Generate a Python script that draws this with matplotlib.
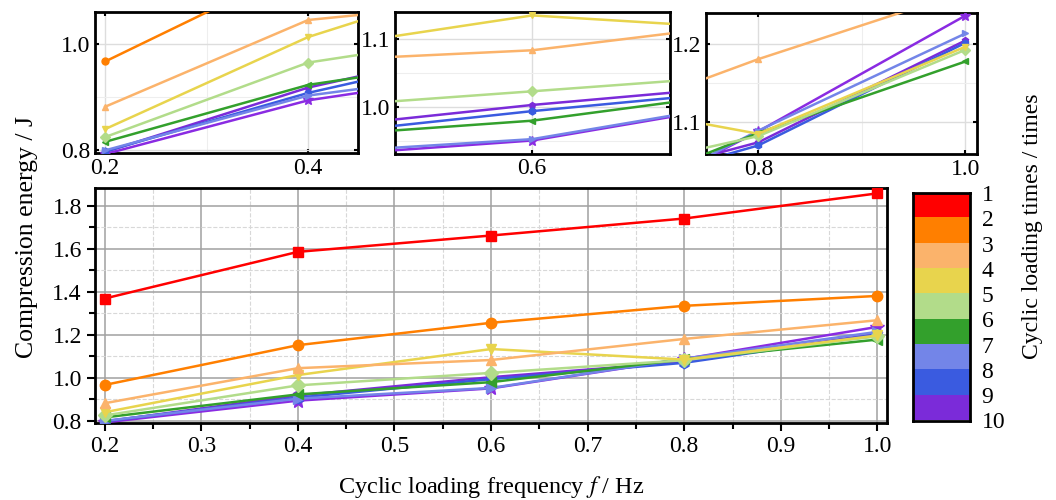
import numpy as np
import matplotlib
matplotlib.use("Agg")
import matplotlib.pyplot as plt
from matplotlib.ticker import MultipleLocator

plt.rcParams['font.family'] = ['Liberation Serif', 'DejaVu Serif']
plt.rcParams['mathtext.fontset'] = 'stix'

# datos
freq = [0.2, 0.4, 0.6, 0.8, 1.0]
s1 = [1.369, 1.586, 1.662, 1.741, 1.858]
s2 = [0.967, 1.152, 1.256, 1.335, 1.381]
s3 = [0.882, 1.045, 1.083, 1.181, 1.268]
s4 = [0.840, 1.013, 1.134, 1.085, 1.197]
s5 = [0.825, 0.965, 1.023, 1.082, 1.193]
s6 = [0.816, 0.923, 0.980, 1.086, 1.178]
s7 = [0.800, 0.903, 0.953, 1.089, 1.214]
s8 = [0.798, 0.908, 0.994, 1.070, 1.202]
s9 = [0.797, 0.918, 1.003, 1.074, 1.205]
s10 = [0.793, 0.894, 0.951, 1.088, 1.237]
series = [s1, s2, s3, s4, s5, s6, s7, s8, s9, s10]

colores = ['#FF0000', '#FF7F00', '#FBB36B', '#E8D44D', '#B2DC8A',
           '#33A02C', '#7385E8', '#3A5BE0', '#7B2BD9', '#8A2BE2']
marcadores = ['s', 'o', '^', 'v', 'D', '<', '>', 'h', 'p', '*']
cbar_colores = colores[:9]
cbar_labels = [str(i) for i in range(1, 11)]

fig = plt.figure(figsize=(10.56, 5), dpi=100)

## Grafica principal
ax = fig.add_axes([0.090, 0.154, 0.750, 0.470])
for i, s in enumerate(series):
    ax.plot(freq, s, color=colores[i], marker=marcadores[i], lw=1.8,
            ms=10 if marcadores[i] == '*' else 7.5, zorder=3 + (10 - i) * 0.01)
ax.set_xlim(0.19, 1.01)
ax.set_ylim(0.79, 1.883)
ax.xaxis.set_major_locator(MultipleLocator(0.1))
ax.xaxis.set_minor_locator(MultipleLocator(0.05))
ax.yaxis.set_major_locator(MultipleLocator(0.2))
ax.yaxis.set_minor_locator(MultipleLocator(0.1))
ax.grid(which='major', color='#A0A0A0', lw=1.1)
ax.grid(which='minor', color='#D8D8D8', lw=0.8, ls='--')
ax.tick_params(which='major', direction='out', length=6, width=1.5, labelsize=17)
ax.tick_params(which='minor', direction='out', length=4, width=1.5)
for sp in ax.spines.values():
    sp.set_linewidth(2)
ax.set_xlabel('Cyclic loading frequency $f$ / Hz', fontsize=17.5, labelpad=12)

## Recuadros ampliados
insets = [
    ([0.090, 0.694, 0.249, 0.282], (0.19, 0.449), (0.795, 1.06), 0.2, 0.1, 0.2, 0.1),
    ([0.374, 0.693, 0.260, 0.283], (0.55, 0.65), (0.932, 1.139), 0.2, 0.1, 0.1, 0.05),
    ([0.669, 0.692, 0.256, 0.283], (0.75, 1.011), (1.059, 1.241), 0.2, 0.1, 0.1, 0.05),
]
for pos, xl, yl, xmaj, xmin, ymaj, ymin in insets:
    a = fig.add_axes(pos)
    for i, s in enumerate(series):
        a.plot(freq, s, color=colores[i], marker=marcadores[i], lw=1.8,
               ms=7 if marcadores[i] == '*' else 5, zorder=3 + (10 - i) * 0.01)
    a.set_xlim(*xl)
    a.set_ylim(*yl)
    a.xaxis.set_major_locator(MultipleLocator(xmaj))
    a.xaxis.set_minor_locator(MultipleLocator(xmin))
    a.yaxis.set_major_locator(MultipleLocator(ymaj))
    a.yaxis.set_minor_locator(MultipleLocator(ymin))
    a.grid(which='major', color='#DDDDDD', lw=1.0)
    a.grid(which='minor', color='#EEEEEE', lw=0.8)
    a.tick_params(which='both', direction='in', top=True, right=True,
                  length=3, width=1.5, labelsize=17)
    a.tick_params(which='minor', length=0)
    for sp in a.spines.values():
        sp.set_linewidth(2)

## Barra de colores
cax = fig.add_axes([0.865, 0.159, 0.054, 0.455])
cax.imshow(np.array([[matplotlib.colors.to_rgb(c)] for c in cbar_colores]),
           aspect='auto', extent=[0, 1, 9, 0])
cax.set_xticks([])
cax.yaxis.tick_right()
cax.set_yticks(np.arange(10))
cax.set_yticklabels(cbar_labels)
cax.tick_params(axis='y', length=0, labelsize=17, pad=8)
for sp in cax.spines.values():
    sp.set_linewidth(2)

fig.text(0.026, 0.526, 'Compression energy / J', rotation=90, fontsize=18.5,
         ha='center', va='center')
fig.text(0.978, 0.548, 'Cyclic loading times / times', rotation=90, fontsize=17,
         ha='center', va='center')

fig.savefig('out.png', dpi=100)
